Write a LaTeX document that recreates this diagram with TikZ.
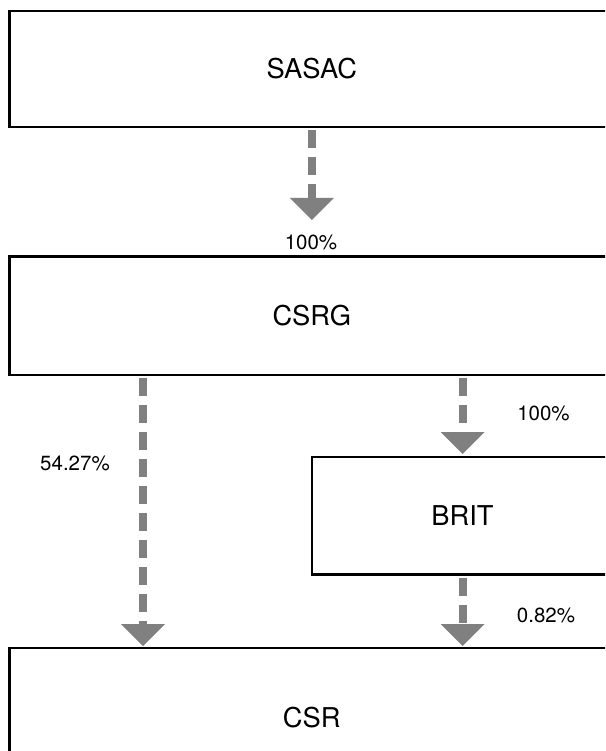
\documentclass[tikz,border=0pt]{standalone}
\usepackage{fontspec}
\setmainfont{TeX Gyre Heros}
\usetikzlibrary{arrows.meta}
\definecolor{flowGray}{HTML}{808080}

\begin{document}
\begin{tikzpicture}
[x=1pt,y=-1pt,%
  boxDecorate/.style={shape=rectangle,draw,line width=2.6pt,inner sep=0pt,outer sep=0pt,
    font=\fontsize{27.3}{32}\selectfont},%
  lineDecorate/.style={draw=flowGray,line width=8pt,dash pattern=on 18pt off 9pt,
    -{Triangle[width=44pt,length=22pt,line width=0pt]}},%
  labelDecorate/.style={inner sep=0pt,anchor=base,font=\fontsize{20.5}{24}\selectfont}]
\useasboundingbox (0,0) rectangle (605,751);
\clip (0,0) rectangle (605,751);
%% boxes
\foreach \nodename/\txt/\x/\y/\w/\h in {
  sasac/SASAC/311.75/69/604.5/116,
  csrg/CSRG/311.75/315.75/604.5/118.5,
  brit/BRIT/462.5/515.75/301/117.5,
  csr/CSR/311.75/718/604.5/140}
{
  \node (\nodename) at (\x,\y) [boxDecorate,minimum width=\w pt,minimum height=\h pt] {\txt};
}
%% shares
\foreach \nodename/\txt/\x/\y in {
  shareSasac/100\%/311/249.3, shareLeft/54.27\%/75/470,
  shareBrit/100\%/543.5/420, shareCsr/0.82\%/546/622.5}
{
  \node (\nodename) at (\x,\y) [labelDecorate] {\txt};
}
%% ownership arrows
\path
(sasac.south) edge[lineDecorate,shorten <=3pt,shorten >=36.5pt] (csrg.north)
([xshift=133.5pt]csrg.south west) edge[lineDecorate,shorten <=3pt,shorten >=2pt] ([xshift=133.5pt]csr.north west)
(csrg.south -| brit.north) edge[lineDecorate,shorten <=3pt,shorten >=3pt] (brit.north)
(brit.south) edge[lineDecorate,shorten <=3.5pt,shorten >=2pt] (brit.south |- csr.north);
\end{tikzpicture}
\end{document}
